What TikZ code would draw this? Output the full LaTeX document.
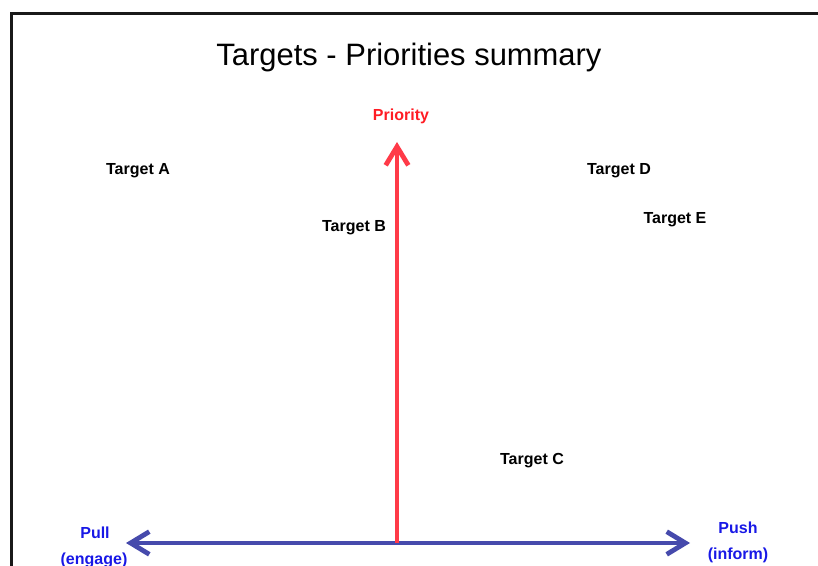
\documentclass[tikz,border=0pt]{standalone}
\usepackage{fontspec}
\setmainfont{Liberation Sans}
\usetikzlibrary{arrows.meta}
\definecolor{axisblue}{RGB}{70,74,172}
\definecolor{labelblue}{RGB}{24,24,230}
\definecolor{axisred}{RGB}{255,58,72}
\definecolor{labelred}{RGB}{255,28,36}
\begin{document}
\begin{tikzpicture}[x=0.75pt,y=-0.75pt,
  lbl/.style={font=\fontsize{12}{14}\selectfont\bfseries, inner sep=0pt, anchor=base},
  target/.style={lbl, text=black},
  axislabel/.style={lbl, text=labelblue},
  barb/.style={Straight Barb[length=14pt,width=17pt,line width=3.6pt]},
  axis/.style={line width=2.4pt}]
\useasboundingbox (0,0) rectangle (818,566);
% frame
\draw[line width=1.6pt, black!90] (11.5,570) -- (11.5,13.5) -- (822,13.5);
% title
\node[inner sep=0pt, anchor=base, font=\fontsize{23.2}{27}\selectfont] (title) at (409,66) {Targets - Priorities summary};
% axes
\coordinate (left) at (126,543);
\coordinate (right) at (690,543);
\coordinate (origin) at (397,543);
\coordinate (top) at (397,142);
\draw[axis, axisblue, {Straight Barb[length=14pt,width=17pt,line width=3.6pt]}-{Straight Barb[length=14pt,width=17pt,line width=3.6pt]}] (left) -- (right);
\draw[axis, axisred, -{Straight Barb[length=14pt,width=17pt,line width=3.6pt]}] (origin) -- (top);
% axis labels
\node[lbl, text=labelred] (priority) at (401,121) {Priority};
\node[axislabel] (pull) at (95,538) {Pull};
\node[axislabel] (engage) at (94,565) {(engage)};
\node[axislabel] (push) at (738,534) {Push};
\node[axislabel] (inform) at (738,560) {(inform)};
% targets
\node[target] (ta) at (138,175) {Target A};
\node[target] (tb) at (354,232) {Target B};
\node[target] (tc) at (532,465) {Target C};
\node[target] (td) at (619,175) {Target D};
\node[target] (te) at (675,224) {Target E};
\end{tikzpicture}
\end{document}
